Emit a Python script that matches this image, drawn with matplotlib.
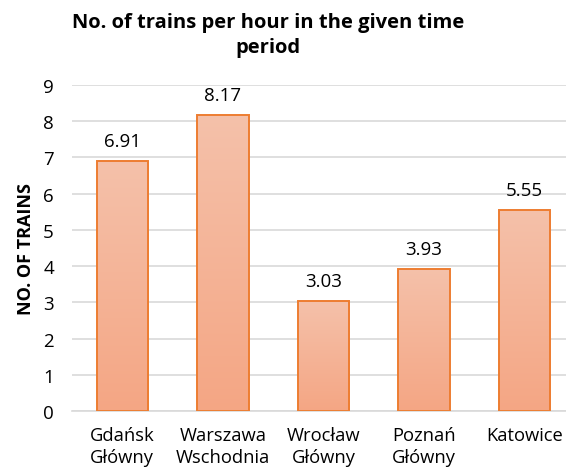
import matplotlib.pyplot as plt
import numpy as np
from matplotlib.colors import LinearSegmentedColormap

# data
stations = ['Gdańsk\nGłówny', 'Warszawa\nWschodnia', 'Wrocław\nGłówny', 'Poznań\nGłówny', 'Katowice']
trains_per_hour = [6.91, 8.17, 3.03, 3.93, 5.55]

plt.rcParams['font.family'] = ['Open Sans', 'DejaVu Sans']

fig = plt.figure(figsize=(5.66, 4.77), dpi=100)
ax = fig.add_axes([72 / 566, 65 / 477, 503 / 566, 326 / 477])

x = np.arange(len(stations))
bars = ax.bar(x, trains_per_hour, width=0.51, color='none', edgecolor='#ED7D31', linewidth=1.4, zorder=3)

# vertical gradient fill, lighter at the top
grad = LinearSegmentedColormap.from_list('peach', ['#F4A684', '#F5C1AA'])
for b in bars:
    x0, y0 = b.get_x(), b.get_y()
    img = ax.imshow(np.linspace(0, 1, 256).reshape(-1, 1), cmap=grad, origin='lower', aspect='auto',
                    extent=[x0, x0 + b.get_width(), y0, y0 + b.get_height()], zorder=2)
    img.set_clip_path(b)

for xi, v in zip(x, trains_per_hour):
    ax.text(xi, v + 0.3, f'{v:.2f}', ha='center', va='bottom', fontsize=13.5)

ax.set_xlim(-0.5, len(stations) - 0.5)
ax.set_ylim(0, 9)
ax.set_yticks(range(0, 10))
ax.set_xticks(x)
ax.set_xticklabels(stations, fontsize=13.2, linespacing=1.3)
ax.tick_params(axis='y', labelsize=13.5, length=0, pad=13)
ax.tick_params(axis='x', length=0, pad=11)
ax.yaxis.grid(True, color='#D9D9D9', linewidth=1.2, zorder=0)
ax.set_axisbelow(True)
for side in ['left', 'right', 'top']:
    ax.spines[side].set_visible(False)
ax.spines['bottom'].set_color('#D9D9D9')
ax.spines['bottom'].set_linewidth(1.2)

ax.set_ylabel('NO. OF TRAINS', fontsize=13, fontweight='bold', labelpad=6)
fig.text(268 / 566, 1 - 13 / 477, 'No. of trains per hour in the given time\nperiod', ha='center', va='top',
         fontsize=14.5, fontweight='bold', linespacing=1.3)

fig.savefig('out.png', dpi=100)
